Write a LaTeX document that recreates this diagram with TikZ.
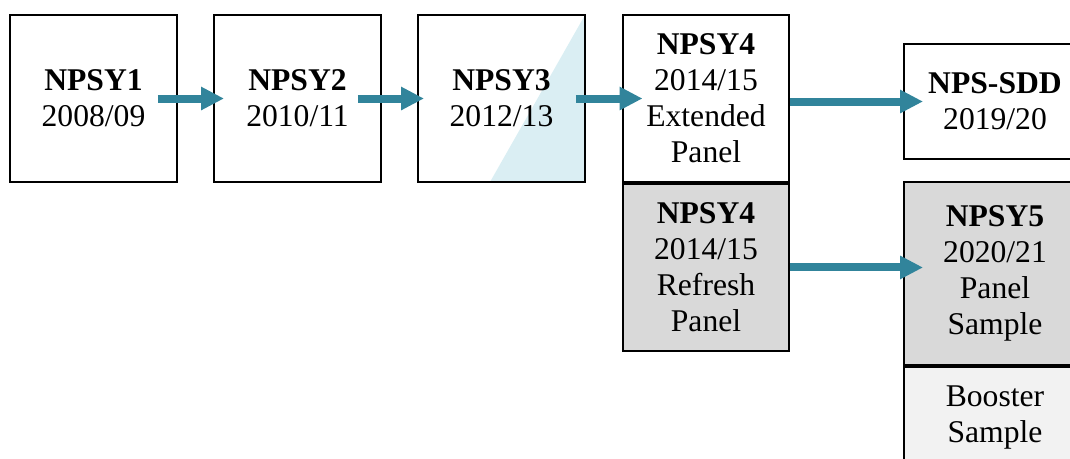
\documentclass[tikz,border=0pt]{standalone}
\usepackage{fontspec}
\setmainfont{Liberation Serif}
\usetikzlibrary{arrows.meta}

\definecolor{npsteal}{HTML}{31849B}
\definecolor{npsblue}{HTML}{DAEEF3}
\definecolor{npsgray}{HTML}{D9D9D9}
\definecolor{npslight}{HTML}{F2F2F2}

\begin{document}
\begin{tikzpicture}[x=0.02cm, y=-0.02cm,
    wave/.style={draw, line width=0.04cm, inner sep=0pt, align=center,
      minimum width=3.34cm, minimum height=3.34cm,
      font=\fontsize{18}{20.5}\selectfont},
    flow/.style={draw=npsteal, line width=0.16cm,
      -{Triangle[length=0.46cm, width=0.44cm]}}]
      % \draw[help lines](0,0) grid (1070,458);

      % Bounding box
      \useasboundingbox (0,0) rectangle (1070,458);

      \node[wave] (y1) at (93.5,98.5) {\textbf{NPSY1}\\2008/09};
      \node[wave] (y2) at (297.5,98.5) {\textbf{NPSY2}\\2010/11};
      \node[wave, path picture={\fill[npsblue] (path picture bounding box.north east)
          -- (path picture bounding box.south east)
          -- ([xshift=-1.9cm]path picture bounding box.south east) -- cycle;}]
        (y3) at (501.5,98.5) {\textbf{NPSY3}\\2012/13};
      \node[wave] (y4e) at (706,98.5) {\textbf{NPSY4}\\2014/15\\Extended\\Panel};
      \node[wave, fill=npsgray, anchor=north] (y4r) at (y4e.south) {\textbf{NPSY4}\\2014/15\\Refresh\\Panel};

      \node[wave, minimum width=3.64cm, minimum height=2.3cm] (sdd) at (995,101.5) {\textbf{NPS-SDD}\\2019/20};
      \node[wave, fill=npsgray, minimum width=3.64cm, minimum height=3.66cm] (y5) at (995,273.5) {\textbf{NPSY5}\\2020/21\\Panel\\Sample};
      \node[wave, fill=npslight, minimum width=3.64cm, minimum height=2.02cm, anchor=north] (boost) at (y5.south) {Booster\\Sample};

      \draw[flow] ([xshift=-0.4cm]y1.east) -- ([xshift=0.22cm]y2.west);
      \draw[flow] ([xshift=-0.48cm]y2.east) -- ([xshift=0.14cm]y3.west);
      \draw[flow] ([xshift=-0.2cm]y3.east) -- ([xshift=0.42cm]y4e.west);
      \draw[flow] (sdd.west -| y4e.east) -- ([xshift=0.4cm]sdd.west);
      \draw[flow] (y4r.east) -- ([xshift=0.4cm]y4r.east -| y5.west);
    \end{tikzpicture}
\end{document}
